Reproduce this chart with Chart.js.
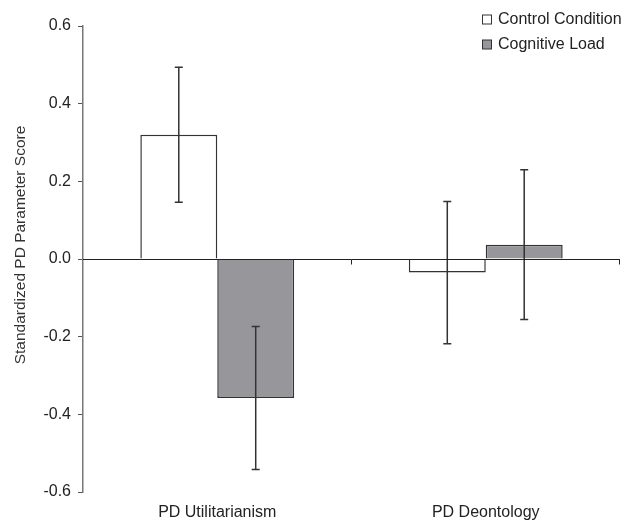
<!DOCTYPE html>
<html>
<head>
<meta charset="utf-8">
<script src="https://cdn.jsdelivr.net/npm/chart.js@4.4.0/dist/chart.umd.min.js"></script>
<style>
  body { margin: 0; background: #fff; }
  #wrap { width: 643px; height: 523px; }
</style>
</head>
<body>
<div id="wrap"><canvas id="grafico"></canvas></div>
<script>
// dati
let categorie = ["PD Utilitarianism", "PD Deontology"];
let serieNomi = ["Control Condition", "Cognitive Load"];
let controllo = [0.32, -0.035];
let carico = [-0.358, 0.037];
let erroreControllo = [0.174, 0.183];
let erroreCarico = [0.184, 0.193];
let tickY = [-0.6, -0.4, -0.2, 0.0, 0.2, 0.4, 0.6];

let coloriRiempimento = ["#ffffff", "#97979b"];
let font = "'Liberation Sans', Arial, sans-serif";

// barre di errore
let pluginErrori = {
  id: "errori",
  afterDatasetsDraw(chart) {
    let ctx = chart.ctx;
    let y = chart.scales.y;
    let errori = [erroreControllo, erroreCarico];
    ctx.save();
    ctx.strokeStyle = "#333";
    ctx.lineWidth = 1.5;
    chart.data.datasets.forEach(function(ds, i) {
      let meta = chart.getDatasetMeta(i);
      meta.data.forEach(function(bar, j) {
        let v = ds.data[j];
        let yA = y.getPixelForValue(v + errori[i][j]);
        let yB = y.getPixelForValue(v - errori[i][j]);
        ctx.beginPath();
        ctx.moveTo(bar.x, yA); ctx.lineTo(bar.x, yB);
        ctx.moveTo(bar.x - 4, yA); ctx.lineTo(bar.x + 4, yA);
        ctx.moveTo(bar.x - 4, yB); ctx.lineTo(bar.x + 4, yB);
        ctx.stroke();
      });
    });
    ctx.restore();
  }
};

// linea dello zero, legenda e titolo asse
let pluginExtra = {
  id: "extra",
  afterDatasetsDraw(chart) {
    let ctx = chart.ctx;
    let area = chart.chartArea;
    let y0 = Math.round(chart.scales.y.getPixelForValue(0)) + 0.5;
    ctx.save();
    ctx.strokeStyle = "#222";
    ctx.lineWidth = 1;
    ctx.beginPath();
    ctx.moveTo(area.left, y0); ctx.lineTo(area.right, y0);
    let larg = (area.right - area.left) / categorie.length;
    for (let i = 1; i <= categorie.length; i++) {
      let xt = Math.round(area.left + larg * i) - 0.5;
      ctx.moveTo(xt, y0); ctx.lineTo(xt, y0 + 5);
    }
    ctx.stroke();
    ctx.restore();
  },
  afterDraw(chart) {
    let ctx = chart.ctx;
    ctx.save();
    ctx.font = "16px " + font;
    ctx.textBaseline = "middle";
    serieNomi.forEach(function(nome, i) {
      let yc = 19.5 + i * 25;
      ctx.fillStyle = coloriRiempimento[i];
      ctx.fillRect(482, yc - 4.5, 9, 9);
      ctx.strokeStyle = "#333";
      ctx.lineWidth = 1;
      ctx.strokeRect(482.5, yc - 4.5, 9, 9);
      ctx.fillStyle = "#222";
      ctx.fillText(nome, 498, yc + 0.5);
    });
    ctx.font = "15.5px " + font;
    ctx.translate(21, 245);
    ctx.rotate(-Math.PI / 2);
    ctx.textAlign = "center";
    ctx.fillStyle = "#333";
    ctx.fillText("Standardized PD Parameter Score", 0, 0);
    ctx.restore();
  }
};

let ctx = document.getElementById("grafico");
let grafico = new Chart(ctx, {
  type: "bar",
  data: {
    labels: categorie,
    datasets: [{
      label: serieNomi[0],
      data: controllo,
      backgroundColor: coloriRiempimento[0],
      borderColor: "#333",
      borderWidth: 1.5,
      borderSkipped: "start"
    }, {
      label: serieNomi[1],
      data: carico,
      backgroundColor: coloriRiempimento[1],
      borderColor: "#333",
      borderWidth: 1.5,
      borderSkipped: "start"
    }]
  },
  options: {
    responsive: true,
    maintainAspectRatio: false,
    animation: false,
    layout: { padding: { top: 26, right: 23, bottom: 0, left: 0 } },
    plugins: {
      legend: { display: false },
      tooltip: { enabled: false }
    },
    datasets: {
      bar: { categoryPercentage: 0.573, barPercentage: 1 }
    },
    scales: {
      x: {
        grid: { display: false },
        border: { display: false },
        ticks: { color: "#222", font: { family: font, size: 16 }, padding: 3 },
        afterFit: function(scale) { scale.height = 31; }
      },
      y: {
        min: -0.6,
        max: 0.6,
        afterBuildTicks: function(scale) { scale.ticks = tickY.map(function(v) { return { value: v }; }); },
        grid: { drawOnChartArea: false, tickLength: 5, color: "#555" },
        border: { color: "#777", width: 1.5 },
        ticks: {
          color: "#222",
          padding: 7,
          font: { family: font, size: 16 },
          callback: function(v) { return Number(v).toFixed(1); }
        },
        afterFit: function(scale) { scale.width = 83; }
      }
    }
  },
  plugins: [pluginErrori, pluginExtra]
});
</script>
</body>
</html>
